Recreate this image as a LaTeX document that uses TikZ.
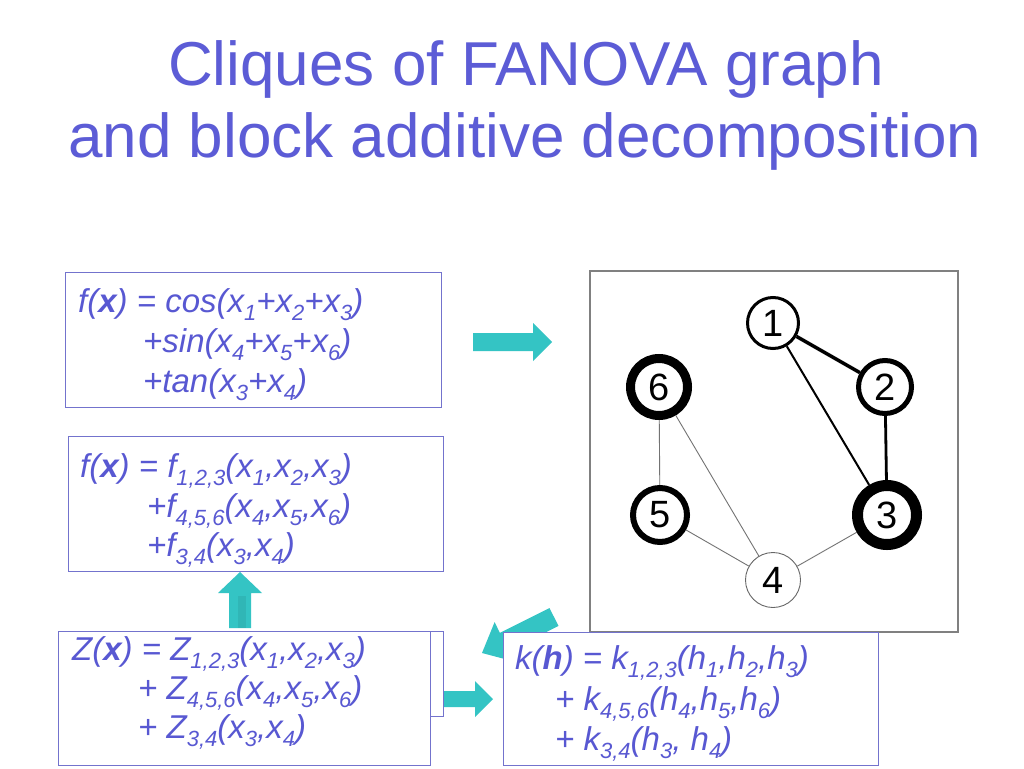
\documentclass[tikz,border=0pt]{standalone}
\usepackage{fontspec}
\setmainfont{Liberation Sans}
\usetikzlibrary{backgrounds}
\definecolor{ttl}{RGB}{92,92,214}
\definecolor{txt}{RGB}{88,88,210}
\definecolor{bxc}{RGB}{115,115,205}
\definecolor{tealc}{RGB}{52,196,196}
\newcommand\sbx[1]{\raisebox{-8pt}{\fontsize{22}{22}\selectfont #1}}
\newcommand\bfx{\textbf{x}}
\newcommand\bfh{\textbf{h}}
\begin{document}
\begin{tikzpicture}[x=1pt,y=-1pt,
  titletext/.style={anchor=base,inner sep=0,text=ttl,font=\fontsize{62}{62}\selectfont},
  formula/.style={anchor=base west,inner sep=0,text=txt,font=\fontsize{33}{33}\selectfont\itshape},
  fbox/.style={draw=bxc,line width=1pt,fill=white},
  blockarrow/.style={fill=tealc,draw=none},
  gnode/.style={circle,draw=black,fill=white,inner sep=0,font=\fontsize{38}{38}\selectfont},
  thinedge/.style={draw=black!55,line width=0.9pt},
]
\useasboundingbox (0,0) rectangle (1024,768);
\begin{scope}[on background layer]
\fill[white] (0,0) rectangle (1024,768);
\end{scope}

% title
\node[titletext] (title1) at (526,85) {Cliques of FANOVA graph};
\node[titletext] (title2) at (525,157) {and block additive decomposition};

% graph panel
\draw[draw=black!50,line width=1.3pt] (590,271) rectangle (958,632);
\node[gnode,line width=3pt,minimum size=51pt] (n1) at (773,323) {1};
\node[gnode,line width=5pt,minimum size=53pt] (n2) at (885,387) {2};
\node[gnode,line width=11pt,minimum size=59pt] (n3) at (887,515) {3};
\node[gnode,line width=0.9pt,draw=black!60,minimum size=55pt] (n4) at (773,580) {4};
\node[gnode,line width=6pt,minimum size=54pt] (n5) at (660,515) {5};
\node[gnode,line width=9pt,minimum size=57pt] (n6) at (659,387) {6};
\begin{scope}[on background layer]
\draw[black,line width=3.5pt] (n1) -- (n2);
\draw[black,line width=2pt] (n1) -- (n3);
\draw[black,line width=2.8pt] (n2) -- (n3);
\draw[thinedge] (n6) -- (n5);
\draw[thinedge] (n6) -- (n4);
\draw[thinedge] (n5) -- (n4);
\draw[thinedge] (n3) -- (n4);
\end{scope}

% box 1
\draw[fbox] (65,272) rectangle (441,407);
\node[formula] (a1) at (78,312) {f(\bfx) = cos(x\sbx{1}+x\sbx{2}+x\sbx{3})};
\node[formula] (a2) at (143,352) {+sin(x\sbx{4}+x\sbx{5}+x\sbx{6})};
\node[formula] (a3) at (143,392) {+tan(x\sbx{3}+x\sbx{4})};

% box 2
\draw[fbox] (68,436) rectangle (443,571);
\node[formula] (b1) at (80,477) {f(\bfx) = f\sbx{1,2,3}(x\sbx{1},x\sbx{2},x\sbx{3})};
\node[formula] (b2) at (147,517) {+f\sbx{4,5,6}(x\sbx{4},x\sbx{5},x\sbx{6})};
\node[formula] (b3) at (147,556) {+f\sbx{3,4}(x\sbx{3},x\sbx{4})};

% arrows
\fill[blockarrow] (473,333) -- (533,333) -- (533,323) -- (552,342) -- (533,361) -- (533,351) -- (473,351) -- cycle;
\fill[blockarrow] (229,628) -- (229,593) -- (218,593) -- (240,572) -- (262,593) -- (251,593) -- (251,628) -- cycle;
\fill[tealc!80!black,opacity=0.35] (238,628) -- (238,596) -- (246,596) -- (246,628) -- cycle;
\fill[blockarrow] (438,691) -- (475,691) -- (475,681) -- (493,699) -- (475,717) -- (475,707) -- (438,707) -- cycle;
\fill[blockarrow] (558.5,625.9) -- (549.5,608.1) -- (499.9,632.9) -- (494.6,622.1) -- (482,653) -- (514.2,661.5) -- (508.9,650.7) -- cycle;

% Z box
\draw[fbox] (58,631) rectangle (443,716);
\draw[fbox] (58,631) rectangle (430,765);
\node[formula] (c1) at (72,660) {Z(\bfx) = Z\sbx{1,2,3}(x\sbx{1},x\sbx{2},x\sbx{3})};
\node[formula] (c2) at (138,699) {+ Z\sbx{4,5,6}(x\sbx{4},x\sbx{5},x\sbx{6})};
\node[formula] (c3) at (138,738) {+ Z\sbx{3,4}(x\sbx{3},x\sbx{4})};

% k box
\draw[fbox] (503,632) rectangle (878,765);
\node[formula] (d1) at (515,669) {k(\bfh) = k\sbx{1,2,3}(h\sbx{1},h\sbx{2},h\sbx{3})};
\node[formula] (d2) at (555,710) {+ k\sbx{4,5,6}(h\sbx{4},h\sbx{5},h\sbx{6})};
\node[formula] (d3) at (555,750) {+ k\sbx{3,4}(h\sbx{3}, h\sbx{4})};
\end{tikzpicture}
\end{document}
